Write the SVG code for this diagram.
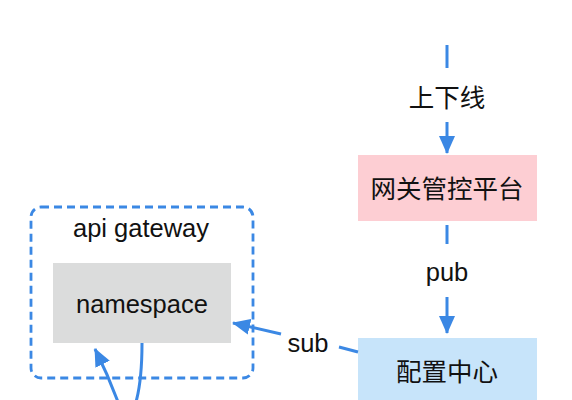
<svg xmlns="http://www.w3.org/2000/svg" width="572" height="400" viewBox="0 0 572 400">
<defs>
<style>
.t{font-family:"Liberation Sans","Noto Sans CJK SC",sans-serif;font-size:25.5px;fill:#111;text-anchor:middle;dominant-baseline:central}
.e{stroke:#3B88E4;stroke-width:3;fill:none}
</style>
<marker id="ah" markerWidth="18" markerHeight="16" refX="17" refY="8" orient="auto" markerUnits="userSpaceOnUse">
<path d="M0,0 L18,8 L0,16 z" fill="#3B88E4"/>
</marker>
</defs>
<rect width="572" height="400" fill="#fff"/>
<g id="api-gateway">
<rect x="31" y="207" width="222" height="171" rx="10" fill="none" stroke="#3B88E4" stroke-width="2.8" stroke-dasharray="8,5"/>
<text class="t" x="141" y="228">api gateway</text>
</g>
<g id="namespace">
<rect x="53" y="263" width="178" height="80" fill="#DBDCDC"/>
<text class="t" x="142" y="304">namespace</text>
</g>
<g id="platform">
<rect x="358" y="155" width="179" height="66" fill="#FDCED3"/>
<text class="t" x="447" y="189">网关管控平台</text>
</g>
<g id="config">
<rect x="358" y="338" width="179" height="70" fill="#C7E4FA"/>
<text class="t" x="447" y="372">配置中心</text>
</g>
<g id="connectors">
<line class="e" x1="447" y1="45" x2="447" y2="68"/>
<line class="e" x1="447" y1="122" x2="447" y2="153" marker-end="url(#ah)"/>
<text class="t" x="447" y="98">上下线</text>
<line class="e" x1="447" y1="225" x2="447" y2="244"/>
<line class="e" x1="447" y1="297" x2="447" y2="333" marker-end="url(#ah)"/>
<text class="t" x="447" y="272">pub</text>
<line class="e" x1="358" y1="352" x2="339" y2="347"/>
<line class="e" x1="281" y1="334" x2="233" y2="323" marker-end="url(#ah)"/>
<text class="t" x="308" y="343">sub</text>
<path class="e" d="M142,343 Q142,380 136,402"/>
<path class="e" d="M118,402 Q108,375 95,349" marker-end="url(#ah)"/>
</g>
</svg>
